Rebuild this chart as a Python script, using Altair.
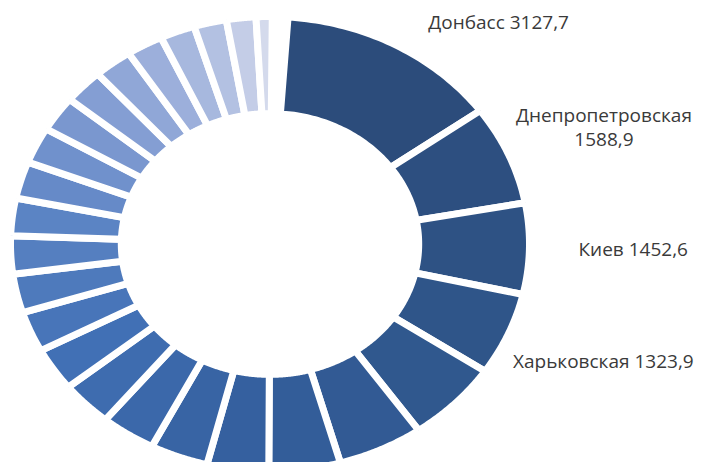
import math
import altair as alt
import pandas as pd

# ---- data ----
names = [
    "Донбасс", "Днепропетровская", "Киев", "Харьковская",
    "Регион 5", "Регион 6", "Регион 7", "Регион 8", "Регион 9", "Регион 10",
    "Регион 11", "Регион 12", "Регион 13", "Регион 14", "Регион 15", "Регион 16",
    "Регион 17", "Регион 18", "Регион 19", "Регион 20", "Регион 21", "Регион 22",
    "Регион 23", "Регион 24", "Регион 25", "Регион 26",
]
values = [
    3127.7, 1588.9, 1452.6, 1323.9,
    1310, 1200, 1000, 862, 812, 769,
    725, 688, 650, 620, 605, 598,
    590, 580, 568, 555, 537, 512,
    487, 456, 412, 225,
]
labelled = 4  # only the first four segments carry labels
label_sep = [" ", "", "  ", " "]


def fmt(v):
    return f"{v:.1f}".replace(".", ",")


labels = [
    names[i] + label_sep[i] + fmt(values[i]) if i < labelled else ""
    for i in range(len(names))
]
value_txt = [fmt(v) for v in values]

df = pd.DataFrame({
    "name": names, "value": values, "idx": list(range(len(names))),
    "label": labels, "vtxt": value_txt,
})

# ---- layout / style constants ----
W, H = 689, 454
START = math.radians(4.0)
SPAN = math.radians(356.5)
RIN = 0.573
NS = 48
XDOM = [-1.00963, 1.64548]
YDOM = [-0.95824, 1.03736]

color_scale = alt.Scale(
    domain=[0, 3, 7, 11, 15, 19, 23, 25],
    range=["#2c4c7b", "#2f5589", "#35609f", "#4170b5", "#5b84c4", "#849ed3", "#b3c1e2", "#d4daec"],
)

xs = alt.Scale(domain=XDOM, nice=False, zero=False)
ys = alt.Scale(domain=YDOM, nice=False, zero=False)

base = (
    alt.Chart(df)
    .transform_window(cum="sum(value)", sort=[alt.SortField("idx")], frame=[None, 0])
    .transform_joinaggregate(total="sum(value)")
    .transform_calculate(
        a0=f"{START} + (datum.cum - datum.value) / datum.total * {SPAN}",
        a1=f"{START} + datum.cum / datum.total * {SPAN}",
    )
)

ring = (
    base.transform_calculate(step=f"sequence(0, {2 * NS + 3})")
    .transform_flatten(["step"])
    .transform_calculate(
        t=f"datum.step <= {NS} ? datum.step / {NS} : (datum.step <= {2 * NS + 1} ? 1 - (datum.step - {NS + 1}) / {NS} : 0)",
        rr=f"(datum.step <= {NS} || datum.step > {2 * NS + 1}) ? 1 : {RIN}",
    )
    .transform_calculate(ang="datum.a0 + (datum.a1 - datum.a0) * datum.t")
    .transform_calculate(px="datum.rr * sin(datum.ang)", py="datum.rr * cos(datum.ang)")
    .mark_line(filled=True, stroke="white", strokeWidth=7, clip=True)
    .encode(
        x=alt.X("px:Q", scale=xs, axis=None),
        y=alt.Y("py:Q", scale=ys, axis=None),
        order=alt.Order("step:Q"),
        detail="name:N",
        color=alt.Color("idx:Q", scale=color_scale, legend=None),
    )
)

text_style = dict(font="Open Sans", fontSize=19, color="#3a3a3a", baseline="middle")


def side(filter_expr, field, **kw):
    return (
        base.transform_filter(filter_expr)
        .transform_calculate(mid="(datum.a0 + datum.a1) / 2")
        .transform_calculate(lx="1.40 * sin(datum.mid)", ly="1.30 * cos(datum.mid)")
        .mark_text(align="center", **text_style, **kw)
        .encode(x=alt.X("lx:Q", scale=xs, axis=None), y=alt.Y("ly:Q", scale=ys, axis=None),
                text=f"{field}:N")
    )


single_labels = side("datum.idx >= 2 && datum.idx <= 3", "label")
dnepr_name = side("datum.idx == 1", "name", dy=-12)
dnepr_value = side("datum.idx == 1", "vtxt", dy=12)

top_label = (
    base.transform_filter("datum.idx == 0")
    .transform_calculate(mid="(datum.a0 + datum.a1) / 2")
    .transform_calculate(lx="1.145 * sin(datum.mid)", ly="1.145 * cos(datum.mid)")
    .mark_text(align="left", dx=14, dy=7, **text_style)
    .encode(x=alt.X("lx:Q", scale=xs, axis=None), y=alt.Y("ly:Q", scale=ys, axis=None), text="label:N")
)

chart = (
    alt.layer(ring, single_labels, dnepr_name, dnepr_value, top_label)
    .properties(width=W, height=H, padding=0, autosize=alt.AutoSizeParams(type="none"))
    .configure_view(stroke=None)
)

chart.save("out.html", embed_options={"renderer": "svg", "actions": False})
